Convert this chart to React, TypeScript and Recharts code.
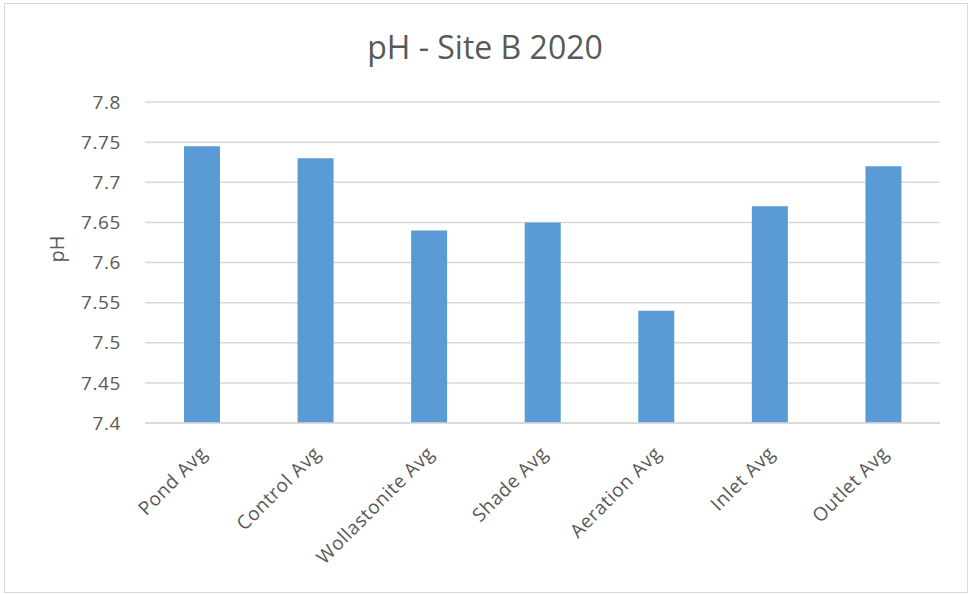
import React from 'react';
import { BarChart, Bar, XAxis, YAxis, CartesianGrid } from 'recharts';

const categories = ['Pond Avg', 'Control Avg', 'Wollastonite Avg', 'Shade Avg', 'Aeration Avg', 'Inlet Avg', 'Outlet Avg'];
const phValues = [7.745, 7.73, 7.64, 7.65, 7.54, 7.67, 7.72];
const yTicks = [7.4, 7.45, 7.5, 7.55, 7.6, 7.65, 7.7, 7.75, 7.8];
const title = 'pH - Site B 2020';
const yLabel = 'pH';

const data = categories.map((c, i) => ({ name: c, ph: phValues[i] }));

const FONT = '"Open Sans", sans-serif';
const TEXT = '#595959';

const XTick = (props: any) => {
  const { x, y, payload } = props;
  return (
    <g transform={`translate(${x - 3},${y + 14})`}>
      <text x={0} y={0} dy="0.7em" textAnchor="end" transform="rotate(-45)" fill={TEXT} fontSize={19} letterSpacing={0.6} fontFamily={FONT}>
        {payload.value}
      </text>
    </g>
  );
};

export default function App() {
  return (
    <div style={{ position: 'absolute', left: 0, top: 0, width: 970, height: 594, background: '#fff' }}>
      <div style={{ position: 'absolute', left: 4, top: 3, width: 962, height: 588, border: '1px solid #d9d9d9' }} />
      <div style={{ position: 'absolute', left: 0, top: 25, width: 970, textAlign: 'center', fontFamily: FONT, fontSize: 32, color: TEXT }}>
        {title}
      </div>
      <div style={{ position: 'absolute', left: 0, top: 0 }}>
        <BarChart width={970} height={594} data={data} margin={{ top: 102, right: 30, bottom: 0, left: 0 }}>
          <CartesianGrid vertical={false} stroke="#d9d9d9" strokeWidth={1.5} />
          <XAxis dataKey="name" tickLine={false} axisLine={{ stroke: '#d9d9d9', strokeWidth: 1.5 }} interval={0} tick={<XTick />} height={171} />
          <YAxis
            domain={[7.4, 7.8]}
            ticks={yTicks}
            interval={0}
            width={145}
            tickLine={false}
            axisLine={false}
            tickMargin={18}
            tick={{ fill: TEXT, fontSize: 19, letterSpacing: 0.6, fontFamily: FONT }}
            label={{ value: yLabel, angle: -90, position: 'insideLeft', offset: 57, fill: TEXT, fontSize: 20, fontFamily: FONT }}
          />
          <Bar dataKey="ph" fill="#5b9bd5" barSize={36} isAnimationActive={false} />
        </BarChart>
      </div>
    </div>
  );
}
